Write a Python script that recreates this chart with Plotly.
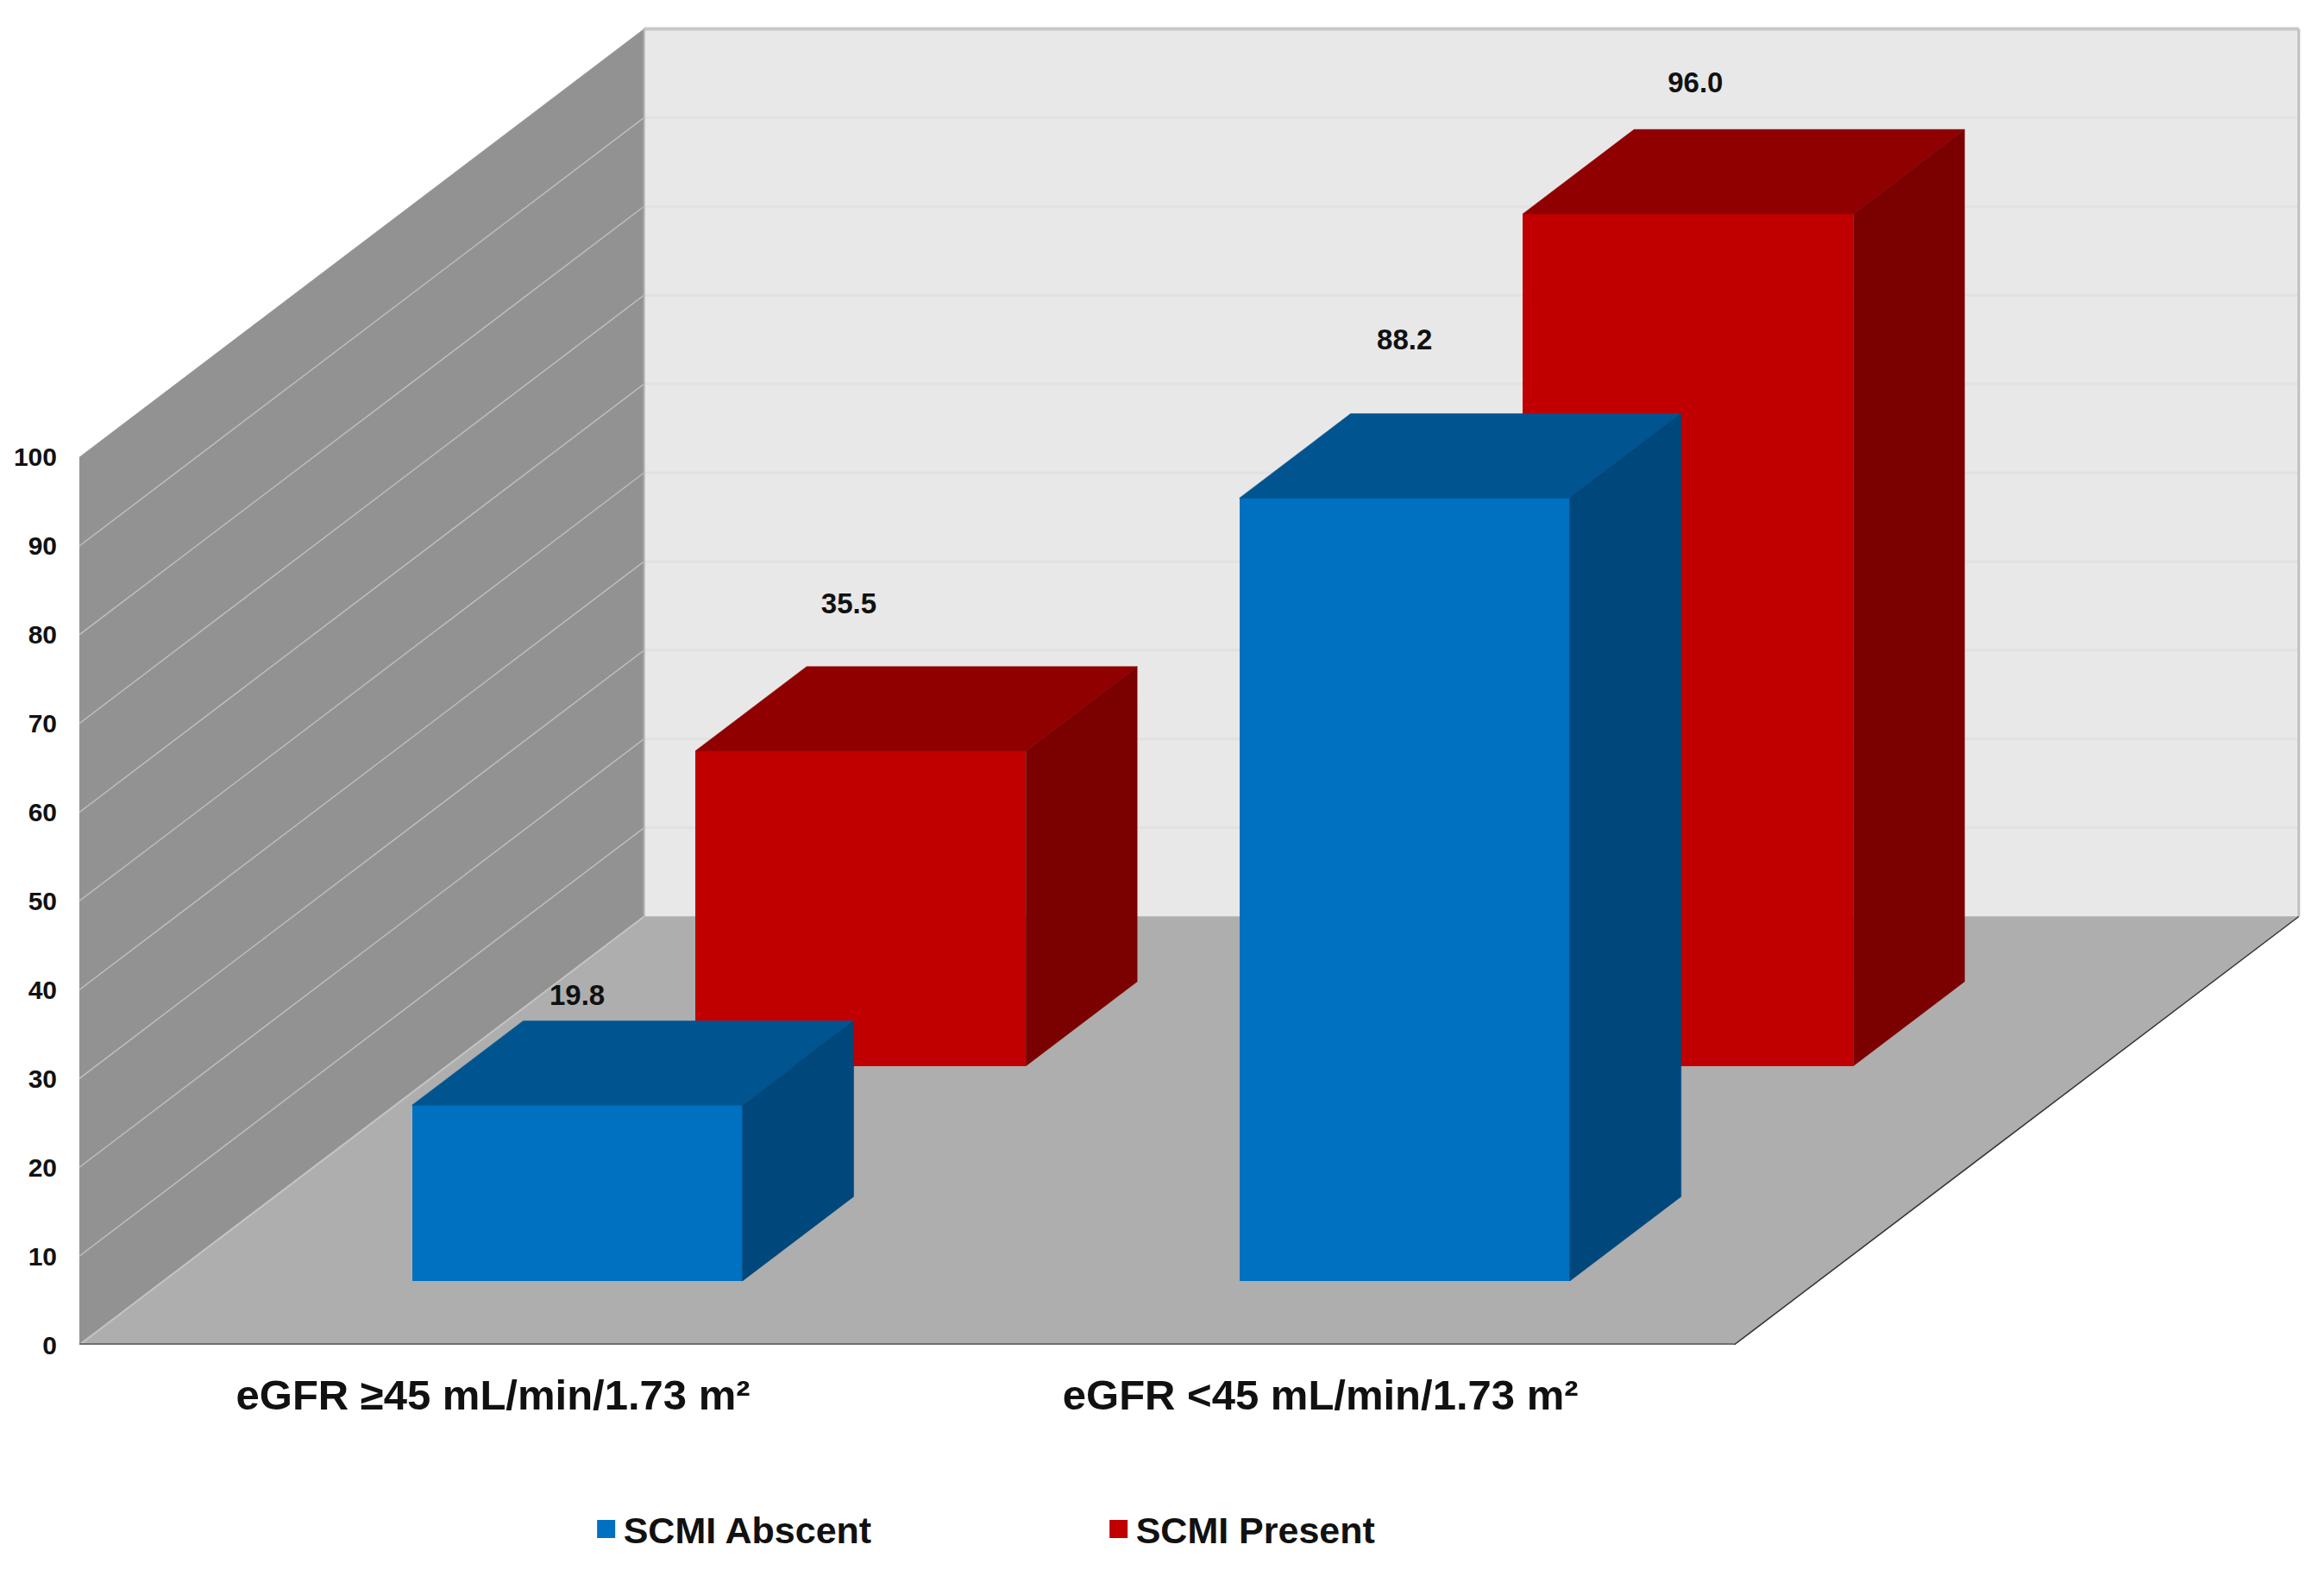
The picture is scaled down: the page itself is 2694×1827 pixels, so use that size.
import plotly.graph_objects as go

# ---- data ----
categories = ["eGFR ≥45 mL/min/1.73 m²", "eGFR <45 mL/min/1.73 m²"]
scmi_absent = [19.8, 88.2]
scmi_present = [35.5, 96.0]
value_ticks = list(range(0, 101, 10))

# ---- layout / projection constants (x unit = reference px / 1.718) ----
W, H = 2694, 1827
S = 1.718
X0, Y0_PX = 53.5, 907.5
UNIT = 5.99                    # display px per value unit
FLOOR_W = 1116.5               # width of front floor edge
CAT_W = FLOOR_W / 2
DEPTH_X, DEPTH_V = 381.0, 48.25  # full depth as x shift and value shift
BAR_W = 223.0
T_BLUE = (0.149, 0.346)
T_RED = (0.651, 0.848)
XMAX = 1568.0
VMAX = Y0_PX / UNIT

BLUE = ("#0070C0", "#005590", "#00477B")
RED = ("#C00000", "#900000", "#7B0000")
LABEL_DX = [[0, -8], [0, 5]]             # label x offset per category / series
LABEL_DV = [[2.6, 6.8], [8.1, 5.0]]      # label lift above the top back edge


def px(x, t=0.0):
    return x + DEPTH_X * t


def pv(v, t=0.0):
    return v + DEPTH_V * t


fig = go.Figure()


def poly(xs, ys, color, axes=("x", "y")):
    fig.add_trace(go.Scatter(x=xs + xs[:1], y=ys + ys[:1], mode="lines", fill="toself",
                             fillcolor=color, line=dict(color=color, width=0.5),
                             hoverinfo="skip", showlegend=False, xaxis=axes[0], yaxis=axes[1]))


def seg(xs, ys, color, width):
    fig.add_trace(go.Scatter(x=xs, y=ys, mode="lines", line=dict(color=color, width=width),
                             hoverinfo="skip", showlegend=False, cliponaxis=False))


# walls and floor
XR = X0 + FLOOR_W
poly([px(X0, 1), px(XR, 1), px(XR, 1), px(X0, 1)], [pv(0, 1), pv(0, 1), pv(100, 1), pv(100, 1)], "#E8E8E8")
poly([X0, px(X0, 1), px(X0, 1), X0], [0, pv(0, 1), pv(100, 1), 100], "#929292")
poly([X0, XR, px(XR, 1), px(X0, 1)], [0, 0, pv(0, 1), pv(0, 1)], "#AEAEAE")
for v in value_ticks[1:-1]:
    seg([px(X0, 1), px(XR, 1)], [pv(v, 1), pv(v, 1)], "#E1E1E1", 3)
    seg([X0, px(X0, 1)], [v, pv(v, 1)], "#BDBDBD", 1.5)
seg([X0, px(X0, 1)], [0, pv(0, 1)], "#C4C4C4", 2)
seg([px(X0, 1), px(XR, 1)], [pv(100, 1), pv(100, 1)], "#C8C8C8", 4)
seg([px(XR, 1), px(XR, 1)], [pv(0, 1), pv(100, 1)], "#C0C0C0", 3)
seg([px(X0, 1), px(X0, 1)], [pv(0, 1), pv(100, 1)], "#B0B0B0", 2)
seg([X0, XR], [0, 0], "#6E6E6E", 4)
seg([XR, px(XR, 1)], [0, pv(0, 1)], "#333333", 1.5)


def bars(values, name, colors, ts, axes):
    t0, t1 = ts
    xa, ya = axes
    centres = [px(X0 + CAT_W * (i + 0.5), t0) for i in range(len(values))]
    fig.add_trace(go.Bar(x=centres, y=values, base=[pv(0, t0)] * len(values), width=BAR_W,
                         marker=dict(color=colors[0], line=dict(width=0)), name=name,
                         showlegend=False, xaxis=xa, yaxis=ya))
    for c, v in zip(centres, values):
        l, r = c - BAR_W / 2, c + BAR_W / 2
        dx, dv = DEPTH_X * (t1 - t0), DEPTH_V * (t1 - t0)
        b, top = pv(0, t0), pv(0, t0) + v
        poly([l, r, r + dx, l + dx], [top, top, top + dv, top + dv], colors[1], axes)
        poly([r, r + dx, r + dx, r], [b, b + dv, top + dv, top], colors[2], axes)
    return centres


red_c = bars(scmi_present, "SCMI Present", RED, T_RED, ("x2", "y2"))
blue_c = bars(scmi_absent, "SCMI Abscent", BLUE, T_BLUE, ("x3", "y3"))

# value labels
dv_depth = {0: DEPTH_V * (T_BLUE[1] - T_BLUE[0]), 1: DEPTH_V * (T_RED[1] - T_RED[0])}
lab_x, lab_y, lab_t = [], [], []
for s, (vals, cent, ts) in enumerate([(scmi_absent, blue_c, T_BLUE), (scmi_present, red_c, T_RED)]):
    for i, v in enumerate(vals):
        lab_x.append(cent[i] + LABEL_DX[i][s])
        lab_y.append(pv(0, ts[0]) + v + dv_depth[s] + LABEL_DV[i][s])
        lab_t.append(f"{v:.1f}")
fig.add_trace(go.Scatter(x=lab_x, y=lab_y, text=lab_t, mode="text", textposition="middle center",
                         textfont=dict(family="Liberation Sans", size=33, color="#111111", weight="bold"),
                         hoverinfo="skip", showlegend=False, xaxis="x3", yaxis="y3"))

# legend entries
for name, col in [("SCMI Abscent", BLUE[0]), ("SCMI Present", RED[0])]:
    fig.add_trace(go.Scatter(x=[None], y=[None], mode="markers", name=name,
                             marker=dict(symbol="square", size=16, color=col, line=dict(color=col, width=5))))

hidden = dict(visible=False, range=[X0, XMAX], fixedrange=True)
hiddeny = dict(visible=False, range=[0, VMAX], fixedrange=True)
fig.update_layout(
    width=W, height=H, autosize=False,
    margin=dict(l=X0 * S, r=0, t=0, b=H - Y0_PX * S, autoexpand=False),
    paper_bgcolor="white", plot_bgcolor="white",
    bargap=0, barmode="overlay",
    font=dict(family="Liberation Sans", color="#111111"),
    xaxis=dict(range=[X0, XMAX], tickmode="array",
               tickvals=[X0 + CAT_W * (i + 0.5) for i in range(len(categories))],
               ticktext=categories, showgrid=False, zeroline=False, showline=False,
               ticks="outside", ticklen=15, tickcolor="rgba(0,0,0,0)",
               tickfont=dict(size=49, weight="bold"), tickangle=0, fixedrange=True),
    yaxis=dict(range=[0, VMAX], tickmode="array", tickvals=value_ticks,
               ticktext=[str(v) for v in value_ticks], showgrid=False, zeroline=False,
               showline=False, ticks="outside", ticklen=19, tickcolor="rgba(0,0,0,0)",
               tickfont=dict(size=30, weight="bold"), fixedrange=True),
    xaxis2=dict(overlaying="x", **hidden), yaxis2=dict(overlaying="y", **hiddeny),
    xaxis3=dict(overlaying="x", **hidden), yaxis3=dict(overlaying="y", **hiddeny),
    legend=dict(orientation="h", x=0.227, xanchor="left", y=-0.137, yanchor="middle",
                font=dict(size=43, weight="bold"), itemsizing="trace", traceorder="normal",
                entrywidth=549, entrywidthmode="pixels", bgcolor="rgba(0,0,0,0)"),
)
fig.write_html("out.html", config=dict(displayModeBar=False),
               post_script="document.body.style.margin='0';")
